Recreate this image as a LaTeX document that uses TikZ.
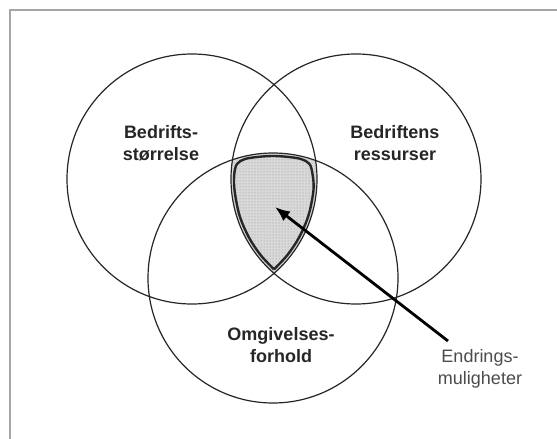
\documentclass[tikz,border=0pt]{standalone}
\usepackage{fontspec}
\setmainfont{Liberation Sans}
\usetikzlibrary{arrows.meta,patterns}
\begin{document}
\begin{tikzpicture}[x=1pt,y=-1pt,
  circ/.style={draw=black!85, line width=1.2pt},
  lab/.style={font=\bfseries\fontsize{18}{22}\selectfont, align=center, text=black!85, inner sep=0pt},
  note/.style={font=\fontsize{18}{22}\selectfont, align=center, text=black!70, inner sep=0pt},
  frameline/.style={draw=gray!70, line width=1.6pt},
  outline/.style={draw=black!85, line width=2.4pt, line join=round},
  pointer/.style={draw=black, line width=2.8pt, -{Latex[length=15pt,width=12pt]}}
]
\useasboundingbox (0,0) rectangle (557,439);
\fill[white] (0,0) rectangle (557,439);
\draw[frameline] (10,439) -- (10,10) -- (557,10);

% shaded intersection
\begin{scope}
  \clip (192,179) circle[radius=125pt];
  \clip (356,179) circle[radius=125pt];
  \fill[black!15] (273,278) circle[radius=125pt];
  \fill[pattern=dots, pattern color=black!45] (273,278) circle[radius=125pt];
\end{scope}

% circles
\node[circ, circle, minimum size=250pt, inner sep=0pt] (cL) at (192,179) {};
\node[circ, circle, minimum size=250pt, inner sep=0pt] (cR) at (356,179) {};
\node[circ, circle, minimum size=250pt, inner sep=0pt] (cB) at (273,278) {};

% outline of shaded area
\draw[outline] plot[smooth, tension=0.55] coordinates {
  (274,269.3) (260.6,255) (248.7,237) (239.4,215) (234.5,190) (234.3,174)
  (237,164) (245,159) (259,156.8) (273,156) (287,156.8) (301,159)
  (309.5,164) (312.5,174) (313.5,190) (308.6,215) (299.3,237) (287.4,255) (274,269.3)};

% labels
\node[lab] (tL) at (161,143) {Bedrifts-\\størrelse};
\node[lab] (tR) at (395,143) {Bedriftens\\ressurser};
\node[lab] (tB) at (281,345) {Omgivelses-\\forhold};
\node[note] (tE) at (480,369) {Endrings-\\muligheter};

% arrow
\coordinate (astart) at (448,341);
\coordinate (atip) at (275,207);
\draw[pointer] (astart) -- (atip);
\end{tikzpicture}
\end{document}
